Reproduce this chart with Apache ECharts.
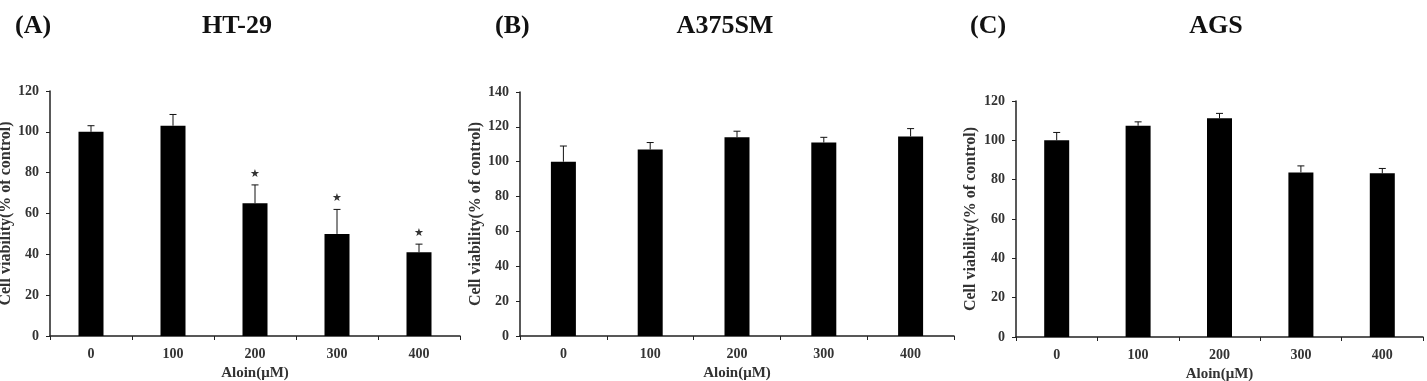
<!DOCTYPE html>
<html>
<head>
<meta charset="utf-8">
<script src="https://cdn.jsdelivr.net/npm/echarts@6/dist/echarts.min.js"></script>
<style>
  html, body { margin: 0; padding: 0; background: #fff; }
  #chart { width: 1427px; height: 381px; }
</style>
</head>
<body>
<div id="chart"></div>
<script>
// doses (x categories), same for all three panels
const doses = ['0', '100', '200', '300', '400'];

// HT-29
const htMean = [100, 103, 65, 50, 41];
const htErr = [3, 5.5, 9, 12, 4];
const htSig = ['', '', '*', '*', '*'];

// A375SM
const a375Mean = [100, 107, 114, 111, 114.5];
const a375Err = [9, 4, 3.5, 3, 4.5];
const a375Sig = ['', '', '', '', ''];

// AGS
const agsMean = [100, 107.4, 111.2, 83.7, 83.2];
const agsErr = [4, 2, 2.5, 3.3, 2.5];
const agsSig = ['', '', '', '', ''];

const yMax = [120, 140, 120];

const FONT = '"Liberation Serif", "Times New Roman", serif';

const panels = [
  { tag: '(A)', name: 'HT-29', mean: htMean, err: htErr, sig: htSig,
    grid: { left: 50, top: 91, width: 410, height: 245 }, tagX: 15, nameX: 237, yGap: 35 },
  { tag: '(B)', name: 'A375SM', mean: a375Mean, err: a375Err, sig: a375Sig,
    grid: { left: 520, top: 92, width: 434, height: 244 }, tagX: 495, nameX: 725, yGap: 35 },
  { tag: '(C)', name: 'AGS', mean: agsMean, err: agsErr, sig: agsSig,
    grid: { left: 1016, top: 101, width: 407, height: 236 }, tagX: 970, nameX: 1216, yGap: 37 }
];

const chart = echarts.init(document.getElementById('chart'));

const titles = [];
const grids = [];
const xAxes = [];
const yAxes = [];
const series = [];

panels.forEach((p, i) => {
  titles.push({
    text: p.tag, left: p.tagX, top: 13, padding: 0,
    textStyle: { fontFamily: FONT, fontSize: 26, fontWeight: 'bold', color: '#111' }
  });
  titles.push({
    text: p.name, left: p.nameX, top: 13, padding: 0, textAlign: 'center',
    textStyle: { fontFamily: FONT, fontSize: 26, fontWeight: 'bold', color: '#111' }
  });

  grids.push(Object.assign({ containLabel: false, outerBoundsMode: 'none' }, p.grid));

  xAxes.push({
    type: 'category',
    gridIndex: i,
    data: doses,
    name: 'Aloin(μM)',
    nameLocation: 'middle',
    nameGap: 30,
    nameTextStyle: { fontFamily: FONT, fontSize: 15, fontWeight: 'bold', color: '#333' },
    axisLine: { lineStyle: { color: '#222', width: 1.5 } },
    axisTick: { show: true, length: 4, lineStyle: { color: '#222' } },
    axisLabel: { fontFamily: FONT, fontSize: 14, fontWeight: 'bold', color: '#333', margin: 11 },
    splitLine: { show: false }
  });

  yAxes.push({
    type: 'value',
    gridIndex: i,
    min: 0,
    max: yMax[i],
    interval: 20,
    name: 'Cell viability(% of control)',
    nameLocation: 'middle',
    nameGap: p.yGap,
    nameTextStyle: { fontFamily: FONT, fontSize: 16, fontWeight: 'bold', color: '#333' },
    axisLine: { show: true, lineStyle: { color: '#222', width: 1.5 } },
    axisTick: { show: true, length: 4, lineStyle: { color: '#222' } },
    axisLabel: { fontFamily: FONT, fontSize: 14, fontWeight: 'bold', color: '#333', margin: 11 },
    splitLine: { show: false }
  });

  series.push({
    type: 'bar',
    xAxisIndex: i,
    yAxisIndex: i,
    data: p.mean,
    barWidth: 25,
    itemStyle: { color: '#000' },
    silent: true
  });

  // upper error whisker + significance star
  series.push({
    type: 'custom',
    xAxisIndex: i,
    yAxisIndex: i,
    data: p.mean.map((m, k) => [k, m, m + p.err[k]]),
    z: 5,
    silent: true,
    renderItem: (params, api) => {
      const base = api.coord([api.value(0), api.value(1)]);
      const top = api.coord([api.value(0), api.value(2)]);
      const children = [
        { type: 'line', shape: { x1: base[0], y1: base[1], x2: top[0], y2: top[1] },
          style: { stroke: '#111', lineWidth: 1 } },
        { type: 'line', shape: { x1: top[0] - 3.5, y1: top[1], x2: top[0] + 3.5, y2: top[1] },
          style: { stroke: '#111', lineWidth: 1 } }
      ];
      if (p.sig[params.dataIndex]) {
        children.push({
          type: 'text',
          style: {
            text: '★', x: top[0], y: top[1] - 11,
            align: 'center', verticalAlign: 'middle',
            font: '11px "DejaVu Sans", sans-serif', fill: '#333'
          }
        });
      }
      return { type: 'group', children };
    }
  });
});

chart.setOption({
  backgroundColor: '#fff',
  animation: false,
  title: titles,
  grid: grids,
  xAxis: xAxes,
  yAxis: yAxes,
  series
});
</script>
</body>
</html>
